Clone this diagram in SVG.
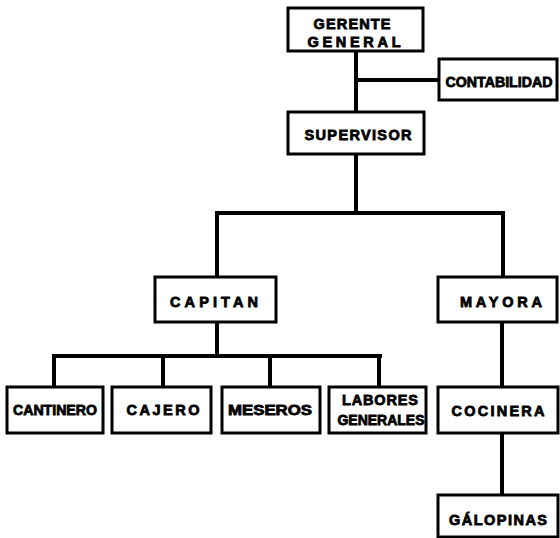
<svg xmlns="http://www.w3.org/2000/svg" width="560" height="538" viewBox="0 0 560 538">
<style>
.box{fill:#fff;stroke:#000;stroke-width:3}
.ln{stroke:#000;stroke-width:4;fill:none;stroke-linecap:square}
text{font-family:"Liberation Sans","DejaVu Sans",Arial,sans-serif;font-weight:bold;font-size:14.5px;fill:#000;stroke:#000;stroke-width:0.8;text-anchor:middle}
</style>
<rect width="560" height="538" fill="#fff"/>
<g id="connectors">
<path class="ln" d="M356 51V112M356 80H439M356 154V213M217 213H503M217 213V277M503 213V277M217 322V356M54 356H380M54 356V387M163 356V387M270 356V387M379 356V387M502 322V387M502 433V495"/>
</g>
<g id="gerente"><rect class="box" x="288" y="8" width="135" height="43"/>
<text x="352" y="29" textLength="77" lengthAdjust="spacing">GERENTE</text>
<text x="354" y="47" textLength="93" lengthAdjust="spacing">GENERAL</text></g>
<g id="contabilidad"><rect class="box" x="439" y="59" width="118" height="41"/>
<text x="499" y="87" textLength="107" lengthAdjust="spacingAndGlyphs">CONTABILIDAD</text></g>
<g id="supervisor"><rect class="box" x="288" y="112" width="136" height="42"/>
<text x="358" y="140" textLength="107" lengthAdjust="spacing">SUPERVISOR</text></g>
<g id="capitan"><rect class="box" x="155" y="277" width="121" height="45"/>
<text x="214" y="307" textLength="88" lengthAdjust="spacing">CAPITAN</text></g>
<g id="mayora"><rect class="box" x="438" y="277" width="119" height="45"/>
<text x="501" y="307" textLength="82" lengthAdjust="spacing">MAYORA</text></g>
<g id="cantinero"><rect class="box" x="7" y="387" width="96" height="46"/>
<text x="55" y="415" textLength="84" lengthAdjust="spacingAndGlyphs">CANTINERO</text></g>
<g id="cajero"><rect class="box" x="112" y="387" width="99" height="46"/>
<text x="163" y="415" textLength="73" lengthAdjust="spacing">CAJERO</text></g>
<g id="meseros"><rect class="box" x="222" y="387" width="98" height="46"/>
<text x="270" y="415" textLength="84" lengthAdjust="spacingAndGlyphs">MESEROS</text></g>
<g id="labores"><rect class="box" x="329" y="387" width="97" height="46"/>
<text x="380" y="405" textLength="76" lengthAdjust="spacing">LABORES</text>
<text x="381" y="425" textLength="87" lengthAdjust="spacingAndGlyphs">GENERALES</text></g>
<g id="cocinera"><rect class="box" x="438" y="387" width="120" height="46"/>
<text x="498" y="416" textLength="93" lengthAdjust="spacing">COCINERA</text></g>
<g id="galopinas"><rect class="box" x="438" y="495" width="120" height="42"/>
<text x="498" y="525" textLength="98" lengthAdjust="spacing">GÁLOPINAS</text></g>
</svg>
